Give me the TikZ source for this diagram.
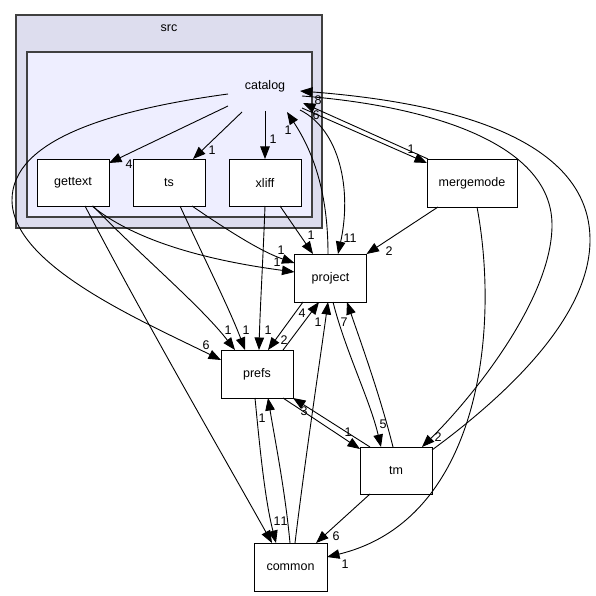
\documentclass[tikz,border=0pt]{standalone}
\usepackage{fontspec}
\setmainfont{Liberation Sans}
\usetikzlibrary{arrows.meta}
\definecolor{srcfill}{HTML}{DDDDEE}
\definecolor{catfill}{HTML}{EEEEFF}
\definecolor{clborder}{HTML}{404040}
\begin{document}
\begin{tikzpicture}[x=1pt,y=-1pt,
  every node/.style={font=\fontsize{12.5}{14}\selectfont, inner sep=0pt},
  box/.style={draw=black, fill=white, line width=0.9pt, minimum width=72pt, minimum height=47pt},
  dep/.style={draw=black, line width=0.9pt, -{Triangle[length=12.5pt,width=9.5pt]}},
  lbl/.style={font=\fontsize{12.5}{14}\selectfont}]
\useasboundingbox[fill=white] (0,0) rectangle (596,596);
% clusters
\filldraw[fill=srcfill, draw=clborder, line width=1.3pt] (16,15) rectangle (322,228);
\node (srclabel) at (169,28) {src};
\filldraw[fill=catfill, draw=clborder, line width=1.3pt] (27,52) rectangle (312,217);
\node (catalog) at (265,86) {catalog};
% nodes
\node[box] (gettext) at (73,182.5) {gettext};
\node[box] (ts) at (169,182.5) {ts};
\node[box] (xliff) at (265,182.5) {xliff};
\node[box, minimum height=48pt] (project) at (330.5,278) {project};
\node[box, minimum height=48pt] (prefs) at (257,374) {prefs};
\node[box] (tm) at (396,470.5) {tm};
\node[box, minimum width=73pt, minimum height=48pt] (common) at (290.5,567) {common};
\node[box, minimum width=90pt, minimum height=48pt] (mergemode) at (472,183) {mergemode};
% edges from catalog
\draw[dep] ([shift={(-37,20)}]catalog.center) -- ([shift={(36,-19.5)}]gettext.center);
\node[lbl] (l1) at (129,164) {4};
\draw[dep] ([shift={(-23,26)}]catalog.center) -- ([shift={(24,-23.5)}]ts.center);
\node[lbl] (l2) at (212,150) {1};
\draw[dep] ([shift={(0,25)}]catalog.center) -- ([shift={(0,-23.5)}]xliff.center);
\node[lbl] (l3) at (273,139) {1};
\draw[dep] ([shift={(-37,8)}]catalog.center) .. controls (110,110) and (12,140) .. (12,200)
  .. controls (12,265) and (140,320) .. ([shift={(-36,-14)}]prefs.center);
\node[lbl] (l4) at (206,345) {6};
\draw[dep] ([shift={(37,22)}]catalog.center) -- ([shift={(-45,-20)}]mergemode.center);
\node[lbl] (l5) at (411,149) {1};
\draw[dep] ([shift={(-44,-24)}]mergemode.center) -- ([shift={(38,17)}]catalog.center);
\node[lbl] (l6) at (316,115) {6};
\draw[dep] ([shift={(37,10)}]catalog.center) .. controls (420,105) and (552,140) .. (552,225)
  .. controls (552,300) and (470,400) .. ([shift={(26,-23.5)}]tm.center);
\node[lbl] (l7) at (438,437) {2};
\draw[dep] ([shift={(36,-20.5)}]tm.center) .. controls (500,400) and (590,320) .. (590,240)
  .. controls (590,150) and (480,105) .. ([shift={(35,5)}]catalog.center);
\node[lbl] (l8) at (318,100) {8};
\draw[dep] ([shift={(35,24)}]catalog.center) .. controls (340,130) and (352,190) .. ([shift={(7.5,-24)}]project.center);
\node[lbl] (l9) at (350,238) {11};
\draw[dep] ([shift={(-2.5,-24)}]project.center) .. controls (328,190) and (312,150) .. ([shift={(22,26)}]catalog.center);
\node[lbl] (l10) at (288,130) {1};
% edges into project
\draw[dep] ([shift={(15,23.5)}]xliff.center) -- ([shift={(-17.5,-24)}]project.center);
\node[lbl] (l11) at (311,235) {1};
\draw[dep] ([shift={(23,23.5)}]ts.center) .. controls (230,232) and (262,252) .. ([shift={(-36,-15)}]project.center);
\node[lbl] (l12) at (281,250) {1};
\draw[dep] ([shift={(19,23.5)}]gettext.center) .. controls (140,245) and (220,262) .. ([shift={(-36,-6)}]project.center);
\node[lbl] (l13) at (277,262) {1};
\draw[dep] ([shift={(-34,24)}]mergemode.center) -- ([shift={(36,-24)}]project.center);
\node[lbl] (l14) at (389,251) {2};
\draw[dep] ([shift={(26,-24)}]prefs.center) -- ([shift={(-11.5,24)}]project.center);
\node[lbl] (l15) at (302,313) {4};
\draw[dep] ([shift={(4.5,-24)}]common.center) .. controls (305,460) and (320,360) .. ([shift={(-2.5,24)}]project.center);
\node[lbl] (l16) at (318,322) {1};
\draw[dep] ([shift={(-3,-23.5)}]tm.center) .. controls (380,395) and (360,340) .. ([shift={(16.5,24)}]project.center);
\node[lbl] (l17) at (344,322) {7};
% edges into prefs
\draw[dep] ([shift={(20,23.5)}]gettext.center) .. controls (140,255) and (200,305) .. ([shift={(-22,-24)}]prefs.center);
\node[lbl] (l18) at (228,330) {1};
\draw[dep] ([shift={(11,23.5)}]ts.center) .. controls (205,260) and (230,310) .. ([shift={(-12,-24)}]prefs.center);
\node[lbl] (l19) at (246,330) {1};
\draw[dep] ([shift={(0,23.5)}]xliff.center) .. controls (263,260) and (260,310) .. ([shift={(2,-24)}]prefs.center);
\node[lbl] (l20) at (268,330) {1};
\draw[dep] ([shift={(-27.5,24)}]project.center) -- ([shift={(11,-24)}]prefs.center);
\node[lbl] (l21) at (284,340) {2};
\draw[dep] ([shift={(-26,-23.5)}]tm.center) -- ([shift={(36,24)}]prefs.center);
\node[lbl] (l22) at (304,411) {3};
\draw[dep] ([shift={(-0.5,-24)}]common.center) .. controls (285,490) and (275,440) .. ([shift={(11,24)}]prefs.center);
\node[lbl] (l23) at (262,418) {1};
% edges into tm
\draw[dep] ([shift={(2.5,24)}]project.center) .. controls (345,350) and (370,400) .. ([shift={(-15,-23.5)}]tm.center);
\node[lbl] (l24) at (383,424) {5};
\draw[dep] ([shift={(26,24)}]prefs.center) -- ([shift={(-36,-21.5)}]tm.center);
\node[lbl] (l25) at (348,432) {1};
% edges into common
\draw[dep] ([shift={(12,23.5)}]gettext.center) .. controls (150,330) and (220,450) .. ([shift={(-18.5,-24)}]common.center);
\node[lbl] (l26) at (277,521) {1};
\draw[dep] ([shift={(-2,24)}]prefs.center) .. controls (260,450) and (265,500) .. ([shift={(-14.5,-24)}]common.center);
\node[lbl] (l27) at (284,521) {1};
\draw[dep] ([shift={(-26,23.5)}]tm.center) -- ([shift={(25.5,-24)}]common.center);
\node[lbl] (l28) at (336,536) {6};
\draw[dep] ([shift={(5,24)}]mergemode.center) .. controls (500,330) and (480,520) .. ([shift={(36.5,-10)}]common.center);
\node[lbl] (l29) at (345,564) {1};
\end{tikzpicture}
\end{document}
